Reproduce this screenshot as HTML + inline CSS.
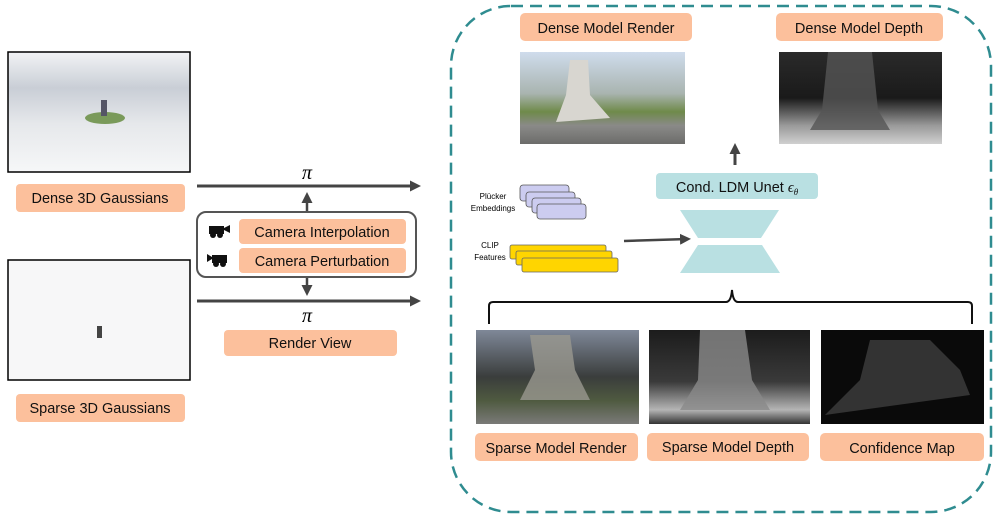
<!DOCTYPE html>
<html><head><style>
body{margin:0;background:#fff;width:997px;height:521px;overflow:hidden;font-family:"Liberation Sans",sans-serif}
</style></head><body>
<svg width="997" height="521" viewBox="0 0 997 521" xmlns="http://www.w3.org/2000/svg" font-family="Liberation Sans, sans-serif">
<defs>
<marker id="ah" markerWidth="11" markerHeight="11" refX="8" refY="5.5" orient="auto" markerUnits="userSpaceOnUse"><path d="M0,0 L11,5.5 L0,11 z" fill="#444"/></marker>
<linearGradient id="dense" x1="0" y1="0" x2="0" y2="1"><stop offset="0" stop-color="#f2f3f5"/><stop offset="0.3" stop-color="#c9ced6"/><stop offset="0.6" stop-color="#e6e8eb"/><stop offset="1" stop-color="#f6f7f8"/></linearGradient>
<linearGradient id="rend" x1="0" y1="0" x2="0" y2="1"><stop offset="0" stop-color="#cfdcec"/><stop offset="0.45" stop-color="#a9b4b0"/><stop offset="0.65" stop-color="#6f8a4a"/><stop offset="0.8" stop-color="#8a8a88"/><stop offset="1" stop-color="#6c6c6a"/></linearGradient>
<linearGradient id="depth" x1="0" y1="0" x2="0" y2="1"><stop offset="0" stop-color="#2a2a2a"/><stop offset="0.5" stop-color="#1a1a1a"/><stop offset="0.8" stop-color="#9a9a9a"/><stop offset="1" stop-color="#d0d0d0"/></linearGradient>
<linearGradient id="srend" x1="0" y1="0" x2="0" y2="1"><stop offset="0" stop-color="#7f8898"/><stop offset="0.5" stop-color="#3a3d3c"/><stop offset="0.75" stop-color="#4f5a40"/><stop offset="1" stop-color="#7a7a78"/></linearGradient>
<linearGradient id="sdepth" x1="0" y1="0" x2="0" y2="1"><stop offset="0" stop-color="#1c1c1c"/><stop offset="0.55" stop-color="#3a3a3a"/><stop offset="0.85" stop-color="#b5b5b5"/><stop offset="1" stop-color="#333"/></linearGradient>
</defs>

<rect x="451" y="6" width="540" height="506" rx="60" fill="none" stroke="#2f8c90" stroke-width="2.5" stroke-dasharray="12,7"/>

<rect x="8" y="52" width="182" height="120" fill="url(#dense)" stroke="#000" stroke-width="1.5"/>
<ellipse cx="105" cy="118" rx="20" ry="6" fill="#7a9a5a"/>
<rect x="101" y="100" width="6" height="16" fill="#556"/>
<rect x="16" y="184" width="169" height="28" rx="4" fill="#fcc09c"/>
<text x="100" y="203" font-size="14.5" text-anchor="middle" fill="#111">Dense 3D Gaussians</text>

<rect x="8" y="260" width="182" height="120" fill="#f7f7f8" stroke="#000" stroke-width="1.5"/>
<rect x="97" y="326" width="5" height="12" fill="#444"/>
<rect x="16" y="394" width="169" height="28" rx="4" fill="#fcc09c"/>
<text x="100" y="413" font-size="14.5" text-anchor="middle" fill="#111">Sparse 3D Gaussians</text>

<line x1="197" y1="186" x2="418" y2="186" stroke="#444" stroke-width="3" marker-end="url(#ah)"/>
<line x1="197" y1="301" x2="418" y2="301" stroke="#444" stroke-width="3" marker-end="url(#ah)"/>
<text x="307" y="179" font-size="20" text-anchor="middle" font-family="Liberation Serif, serif" font-style="italic">π</text>
<text x="307" y="322" font-size="20" text-anchor="middle" font-family="Liberation Serif, serif" font-style="italic">π</text>
<line x1="307" y1="212" x2="307" y2="195" stroke="#444" stroke-width="2.5" marker-end="url(#ah)"/>
<line x1="307" y1="277" x2="307" y2="293" stroke="#444" stroke-width="2.5" marker-end="url(#ah)"/>

<rect x="197" y="212" width="219" height="65" rx="9" fill="#fff" stroke="#555" stroke-width="2"/>
<rect x="239" y="219" width="167" height="25" rx="4" fill="#fcc09c"/>
<text x="322" y="237" font-size="14.5" text-anchor="middle" fill="#111">Camera Interpolation</text>
<rect x="239" y="248" width="167" height="25" rx="4" fill="#fcc09c"/>
<text x="322" y="266" font-size="14.5" text-anchor="middle" fill="#111">Camera Perturbation</text>
<g fill="#111"><rect x="209" y="226" width="15" height="8"/><path d="M224,228 L230,225 L230,233 L224,230z"/><circle cx="213" cy="235" r="3"/><circle cx="220" cy="235" r="3"/></g>
<g fill="#111"><rect x="212" y="255" width="15" height="8"/><path d="M212,257 L207,254 L207,262 L212,259z"/><circle cx="216" cy="264" r="3"/><circle cx="223" cy="264" r="3"/></g>

<rect x="224" y="330" width="173" height="26" rx="4" fill="#fcc09c"/>
<text x="310" y="348" font-size="14.5" text-anchor="middle" fill="#111">Render View</text>

<rect x="520" y="13" width="172" height="28" rx="5" fill="#fcc09c"/>
<text x="606" y="33" font-size="14.5" text-anchor="middle" fill="#111">Dense Model Render</text>
<rect x="776" y="13" width="167" height="28" rx="5" fill="#fcc09c"/>
<text x="859" y="33" font-size="14.5" text-anchor="middle" fill="#111">Dense Model Depth</text>
<rect x="520" y="52" width="165" height="92" fill="url(#rend)"/>
<path d="M570,60 L588,60 L590,95 L610,118 L556,122 L566,95z" fill="#d8d6d0"/>
<rect x="779" y="52" width="163" height="92" fill="url(#depth)"/>
<path d="M828,52 L872,52 L878,110 L890,130 L810,130 L822,110z" fill="#555" opacity="0.8"/>

<line x1="735" y1="165" x2="735" y2="146" stroke="#444" stroke-width="3" marker-end="url(#ah)"/>
<rect x="656" y="173" width="162" height="26" rx="4" fill="#b9e0e2"/>
<text x="737" y="192" font-size="14.5" text-anchor="middle" fill="#111">Cond. LDM Unet <tspan font-family="Liberation Serif, serif" font-style="italic">ϵ</tspan><tspan font-size="9" font-family="Liberation Serif, serif" font-style="italic" dy="3">θ</tspan></text>
<path d="M680,210 L779,210 L761,238 L698,238z" fill="#b9e0e2"/>
<path d="M698,245 L762,245 L780,273 L680,273z" fill="#b9e0e2"/>

<text x="493" y="199" font-size="8" text-anchor="middle">Plücker</text>
<text x="493" y="211" font-size="8" text-anchor="middle">Embeddings</text>
<g fill="#ccccf0" stroke="#555" stroke-width="0.8">
<rect x="520" y="185" width="49" height="16" rx="3"/><rect x="526" y="192" width="49" height="15" rx="3"/><rect x="532" y="198" width="49" height="15" rx="3"/><rect x="537" y="204" width="49" height="15" rx="3"/></g>
<text x="490" y="248" font-size="8" text-anchor="middle">CLIP</text>
<text x="490" y="260" font-size="8" text-anchor="middle">Features</text>
<g fill="#ffd500" stroke="#666" stroke-width="0.8">
<rect x="510" y="245" width="96" height="14" rx="2"/><rect x="516" y="251" width="96" height="14" rx="2"/><rect x="522" y="258" width="96" height="14" rx="2"/></g>
<line x1="624" y1="241" x2="688" y2="239" stroke="#444" stroke-width="2.5" marker-end="url(#ah)"/>

<path d="M489,324 L489,306 Q489,302 493,302 L726,302 Q731,302 732,290 Q733,302 738,302 L968,302 Q972,302 972,306 L972,324" fill="none" stroke="#111" stroke-width="2"/>

<rect x="476" y="330" width="163" height="94" fill="url(#srend)"/>
<path d="M530,335 L570,335 L575,370 L590,400 L520,400 L535,370z" fill="#9a9890" opacity="0.8"/>
<rect x="649" y="330" width="161" height="94" fill="url(#sdepth)"/>
<path d="M700,330 L745,330 L752,380 L770,410 L680,410 L698,380z" fill="#8a8a8a" opacity="0.8"/>
<rect x="821" y="330" width="163" height="94" fill="#0a0a0a"/>
<path d="M870,340 L930,340 L960,370 L970,395 L825,415 L860,380z" fill="#444" opacity="0.7"/>

<rect x="475" y="433" width="163" height="28" rx="5" fill="#fcc09c"/>
<text x="556" y="453" font-size="14.5" text-anchor="middle" fill="#111">Sparse Model Render</text>
<rect x="647" y="433" width="162" height="28" rx="5" fill="#fcc09c"/>
<text x="728" y="452" font-size="14.5" text-anchor="middle" fill="#111">Sparse Model Depth</text>
<rect x="820" y="433" width="164" height="28" rx="5" fill="#fcc09c"/>
<text x="902" y="453" font-size="14.5" text-anchor="middle" fill="#111">Confidence Map</text>
</svg>
</body></html>
